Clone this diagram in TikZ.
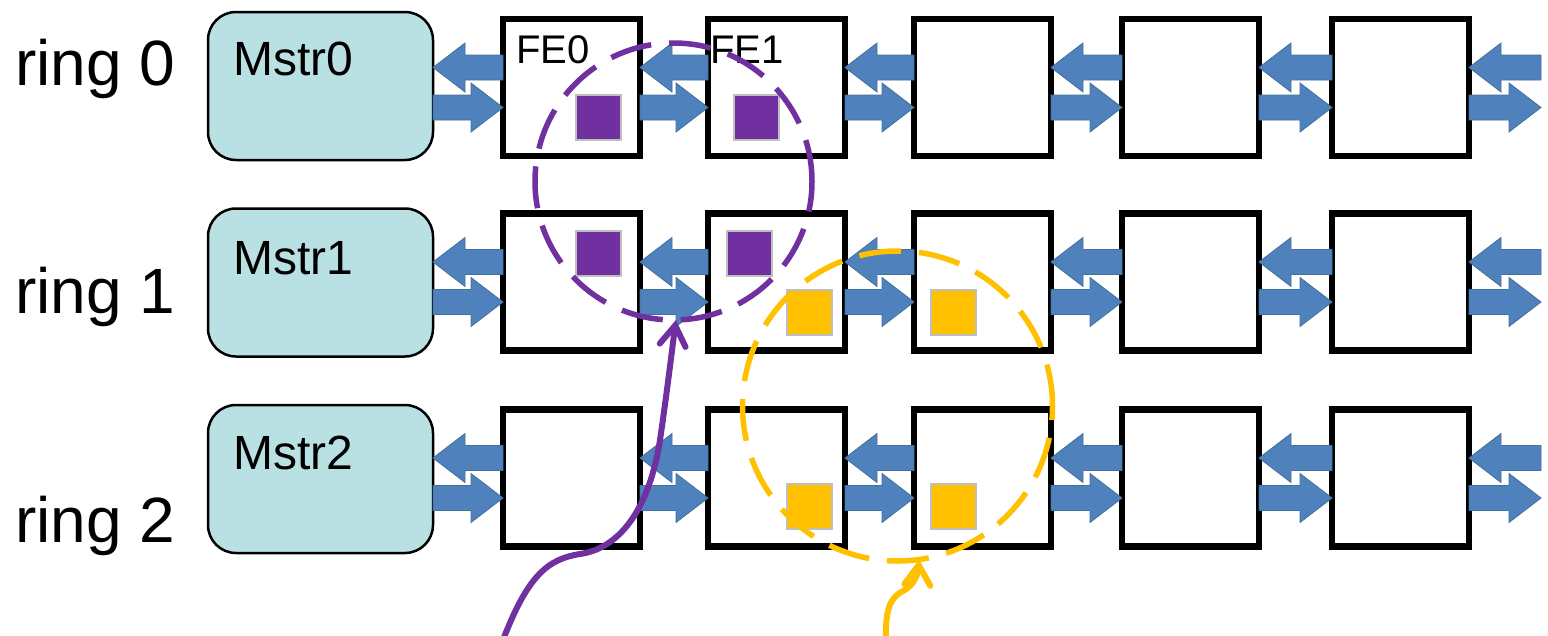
\documentclass[tikz,border=0pt]{standalone}
\usepackage{fontspec}
\setmainfont{Liberation Sans}
\usetikzlibrary{calc,arrows.meta}

\definecolor{mstrfill}{HTML}{B9E0E3}
\definecolor{linkblue}{HTML}{4F81BD}
\definecolor{linkedge}{HTML}{41719C}
\definecolor{grpviolet}{HTML}{7030A0}
\definecolor{grpamber}{HTML}{FFC000}
\definecolor{chipedge}{HTML}{BFBFBF}

\tikzset{
  mstrbox/.style={draw=black, line width=2.5pt, fill=mstrfill, rounded corners=28pt,
    minimum width=225pt, minimum height=148pt, inner sep=0pt, outer sep=0pt},
  febox/.style={draw=black, line width=6.5pt, fill=white, minimum size=137pt,
    inner sep=0pt, outer sep=0pt},
  blockarrow/.style={fill=linkblue, draw=linkedge, line width=0.8pt, line join=miter},
  chip/.style={draw=chipedge, line width=2pt, minimum size=45pt, inner sep=0pt},
  vchip/.style={chip, fill=grpviolet},
  achip/.style={chip, fill=grpamber},
  ringlabel/.style={anchor=base west, inner sep=0pt, font=\fontsize{64}{64}\selectfont},
  mstrlabel/.style={anchor=base west, inner sep=0pt, font=\fontsize{48}{48}\selectfont},
  felabel/.style={anchor=base west, inner sep=0pt, font=\fontsize{40}{40}\selectfont},
  group/.style={draw, circle, line width=5.5pt, dash pattern=on 42pt off 18pt,
    inner sep=0pt, outer sep=0pt},
  pointer/.style={line width=6pt, line cap=round,
    -{Straight Barb[length=20pt, width=26pt, line cap=round]}}
}

% a pair of opposite block arrows between two neighbouring nodes
\newcommand\duplex[2]{%
  \path[blockarrow] let \p1=(#1.east), \p2=(#2.west), \p3=(#2.center) in
    (\x1,\y3+20pt) -- (\x1+32pt,\y3+44.5pt) -- (\x1+32pt,\y3+32.5pt)
      -- (\x2,\y3+32.5pt) -- (\x2,\y3+7.5pt) -- (\x1+32pt,\y3+7.5pt)
      -- (\x1+32pt,\y3-4.5pt) -- cycle
    (\x2,\y3-20pt) -- (\x2-32pt,\y3+4.5pt) -- (\x2-32pt,\y3-7.5pt)
      -- (\x1,\y3-7.5pt) -- (\x1,\y3-32.5pt) -- (\x2-32pt,\y3-32.5pt)
      -- (\x2-32pt,\y3-44.5pt) -- cycle;}

\begin{document}
\begin{tikzpicture}[x=1pt, y=-1pt]
\useasboundingbox (0,0) rectangle (1548,635);

% masters
\node[mstrbox] (m0) at (320.5,86) {};
\node[mstrbox] (m1) at (320.5,282.5) {};
\node[mstrbox] (m2) at (320.5,479) {};

% front-end boxes, three rings of five
\foreach \r/\yy in {0/87.5, 1/282, 2/478} {
  \foreach \c/\xx in {0/571.5, 1/776.5, 2/982.5, 3/1190.5, 4/1400.5} {
    \node[febox] (f\r\c) at (\xx,\yy) {};
  }
  \coordinate (e\r) at (1541,\yy);
}

% links along each ring
\foreach \r in {0,1,2} {
  \duplex{m\r}{f\r0}
  \duplex{f\r0}{f\r1}
  \duplex{f\r1}{f\r2}
  \duplex{f\r2}{f\r3}
  \duplex{f\r3}{f\r4}
  \duplex{f\r4}{e\r}
}

% labels
\node[ringlabel] (r0) at (15,85) {ring 0};
\node[ringlabel] (r1) at (15,313) {ring 1};
\node[ringlabel] (r2) at (15,542) {ring 2};
\node[mstrlabel] (t0) at (233,75) {Mstr0};
\node[mstrlabel] (t1) at (233,274) {Mstr1};
\node[mstrlabel] (t2) at (233,469) {Mstr2};
\node[felabel] (n0) at (516,63) {FE0};
\node[felabel] (n1) at (710,63) {FE1};

% grouped elements
\node[vchip] (v00) at (598,117.5) {};
\node[vchip] (v01) at (756.5,117.5) {};
\node[vchip] (v10) at (598,253.5) {};
\node[vchip] (v11) at (749,253.5) {};
\node[achip] (a11) at (809.5,312.5) {};
\node[achip] (a12) at (953,312.5) {};
\node[achip] (a21) at (809.5,506) {};
\node[achip] (a22) at (953,506) {};

% group outlines
\node[group, draw=grpviolet, minimum size=277pt] (pg) at (673.5,181.5) {};
\node[group, draw=grpamber, minimum size=310pt] (ag) at (897.5,406) {};

% pointers to the groups
\coordinate (ps) at (503,640);
\coordinate (as) at (886,640);
\draw[pointer, grpviolet] (ps) .. controls (528,575) and (548,559) .. (580,554)
  .. controls (622,548) and (650,505) .. (660,440)
  .. controls (667,392) and (672,350) .. (pg.-89);
\draw[pointer, grpamber] (as) .. controls (885,608) and (891,597) .. (903,591)
  .. controls (913,586) and (918,575) .. (ag.-82);
\end{tikzpicture}
\end{document}
